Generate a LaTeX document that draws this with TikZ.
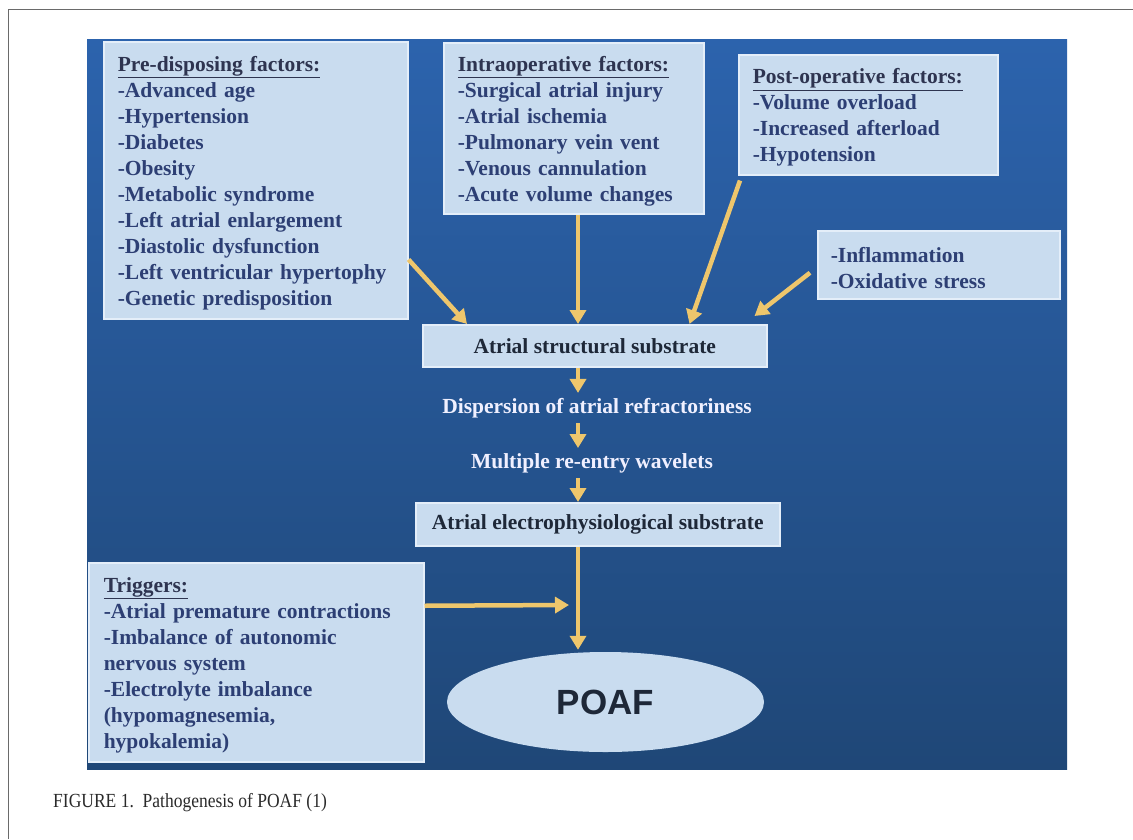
\documentclass[tikz,border=0pt]{standalone}
\usepackage{fontspec}
\usepackage{graphicx}
\setmainfont{Liberation Serif}
\newfontfamily\poafsans{Liberation Sans}
\usetikzlibrary{arrows.meta,shapes.geometric,calc}
\definecolor{paneltop}{HTML}{2C63AD}
\definecolor{panelbot}{HTML}{1F4777}
\definecolor{boxfill}{HTML}{C9DCEF}
\definecolor{boxedge}{HTML}{E4EEF9}
\definecolor{bodyink}{HTML}{2D3F74}
\definecolor{headink}{HTML}{2E3450}
\definecolor{darkink}{HTML}{1E2838}
\definecolor{gold}{HTML}{EEC66C}
\definecolor{framegray}{HTML}{6A6A6A}
\definecolor{capgray}{HTML}{2A2A2A}
\newcommand\boxfont{\fontsize{21.5}{26}\selectfont\bfseries}
\newcommand\hd[1]{{\color{headink}\underline{#1}}}
\tikzset{
  factorbox/.style={rectangle, fill=boxfill, draw=boxedge, line width=1.5pt,
    anchor=north west, align=left, inner xsep=14pt, inner ysep=0pt,
    text height=21pt, font=\boxfont, text=bodyink},
  stagebox/.style={rectangle, fill=boxfill, draw=boxedge, line width=1.5pt,
    anchor=north west, align=center, inner sep=0pt,
    font=\boxfont, text=darkink},
  midtext/.style={font=\boxfont, text=white!94!blue, inner xsep=0pt, inner ysep=5pt},
  flow/.style={draw=gold, line width=4.5pt, -{Triangle[width=16pt,length=14pt]}},
}
\begin{document}
\begin{tikzpicture}[x=1pt,y=-1pt]
\useasboundingbox (0,0) rectangle (1133,839);
% page frame
\draw[framegray, line width=1pt] (8.5,839) -- (8.5,9.5) -- (1133,9.5);
% blue panel
\shade[top color=paneltop, bottom color=panelbot] (87,39) rectangle (1067,769);

% factor boxes
\node[factorbox, text width=276pt, minimum width=304pt, minimum height=277pt] (pre) at (103,41)
 {\hd{Pre-disposing factors:}\\-Advanced age\\-Hypertension\\-Diabetes\\-Obesity\\-Metabolic syndrome\\-Left atrial enlargement\\-Diastolic dysfunction\\-Left ventricular hypertophy\\-Genetic predisposition};
\node[factorbox, text width=232pt, minimum width=260pt, minimum height=171pt] (intra) at (443,42)
 {\hd{Intraoperative factors:}\\-Surgical atrial injury\\-Atrial ischemia\\-Pulmonary vein vent\\-Venous cannulation\\-Acute volume changes};
\node[factorbox, text width=231pt, minimum width=259pt, minimum height=120pt] (post) at (738,54)
 {\hd{Post-operative factors:}\\-Volume overload\\-Increased afterload\\-Hypotension};
\node[factorbox, text width=216pt, minimum width=242pt, minimum height=68pt, inner xsep=13pt] (infl) at (817,230)
 {-Inflammation\\-Oxidative stress};
\node[factorbox, text width=305pt, minimum width=335pt, minimum height=199pt, inner xsep=15pt] (trig) at (88,562)
 {\hd{Triggers:}\\-Atrial premature contractions\\-Imbalance of autonomic\\nervous system\\-Electrolyte imbalance\\(hypomagnesemia,\\hypokalemia)};

% stage boxes
\node[stagebox, minimum width=344pt, minimum height=42pt] (struct) at (422,324) {Atrial structural substrate};
\node[midtext] (disp) at (597,408) {Dispersion of atrial refractoriness};
\node[midtext] (multi) at (592,463) {Multiple re-entry wavelets};
\node[stagebox, minimum width=364pt, minimum height=43pt] (elec) at (415,502) {Atrial electrophysiological substrate};
\node[ellipse, fill=boxfill, minimum width=317pt, minimum height=100pt, inner sep=0pt,
      font=\poafsans\fontsize{35}{38}\selectfont\bfseries, text=darkink] (poaf) at (605.5,702) {POAF};

% caption
\node[anchor=base west, inner sep=0pt, font=\fontsize{20}{23}\selectfont, text=capgray] (cap) at (53,807)
 {\scalebox{0.875}[1]{FIGURE 1.\ \ Pathogenesis of POAF (1)}};

% connectors
\coordinate (spine) at (578,0);
\coordinate (trigend) at (569,605);
\draw[flow] ([yshift=60pt]pre.south east) -- ([xshift=45pt]struct.north west);
\draw[flow] (intra.south -| spine) -- (struct.north -| spine);
\draw[flow] ([xshift=2pt,yshift=-5pt]post.south west) -- ([xshift=-78pt]struct.north east);
\draw[flow] ([xshift=-7pt,yshift=-8pt]infl.west) -- ([xshift=-13pt,yshift=8pt]struct.north east);
\draw[flow] (struct.south -| spine) -- (disp.north -| spine);
\draw[flow] (disp.south -| spine) -- (multi.north -| spine);
\draw[flow] (multi.south -| spine) -- (elec.north -| spine);
\draw[flow] (elec.south -| spine) -- ([yshift=2pt]poaf.north -| spine);
\draw[flow] ([yshift=56.5pt]trig.east) -- (trigend);
\end{tikzpicture}
\end{document}
